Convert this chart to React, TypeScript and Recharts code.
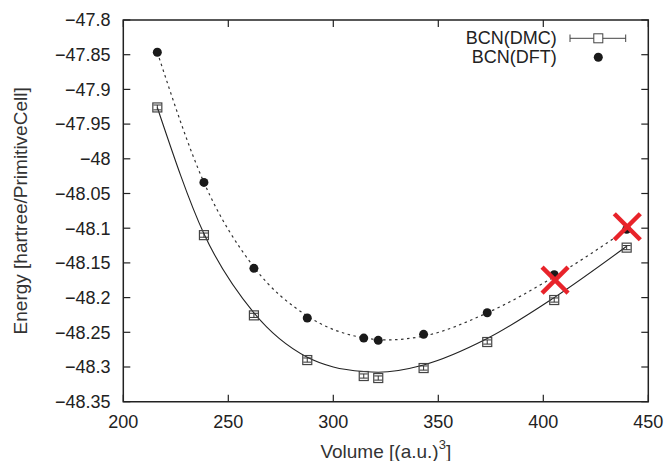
import React from 'react';
import {
  ComposedChart, Line, Scatter, XAxis, YAxis, ErrorBar, ReferenceArea,
} from 'recharts';

// measured points
const dmcVolume = [216.2, 238.4, 262.2, 287.6, 314.5, 321.4, 343.0, 373.3, 405.2, 439.7];
const dmcEnergy = [-47.926, -48.110, -48.2256, -48.290, -48.313, -48.3159, -48.3015, -48.264, -48.2035, -48.128];
const dmcError = [0.0035, 0.003, 0.003, 0.003, 0.003, 0.003, 0.003, 0.003, 0.003, 0.003];

const dftVolume = [216.2, 238.4, 262.2, 287.6, 314.5, 321.4, 343.0, 373.3, 405.2, 439.7];
const dftEnergy = [-47.8465, -48.034, -48.1578, -48.2294, -48.2583, -48.2616, -48.2529, -48.2218, -48.167, -48.1016];

// fitted curves
const dmcFitVolume = [216.2, 238.4, 262.2, 287.6, 300, 314.5, 321.4, 343.0, 373.3, 405.2, 439.7];
const dmcFitEnergy = [-47.926, -48.108, -48.222, -48.286, -48.300, -48.3065, -48.3075, -48.297, -48.259, -48.200, -48.126];

const dftFitVolume = [216.2, 238.4, 262.2, 287.6, 314.5, 325, 343.0, 373.3, 405.2, 439.7];
const dftFitEnergy = [-47.8465, -48.034, -48.156, -48.2265, -48.258, -48.261, -48.2555, -48.222, -48.170, -48.102];

// red crosses
const crossVolume = [405.6, 440.0];
const crossEnergy = [-48.1747, -48.0979];

const xTicks = [200, 250, 300, 350, 400, 450];
const yTicks = [-47.8, -47.85, -47.9, -47.95, -48, -48.05, -48.1, -48.15, -48.2, -48.25, -48.3, -48.35];

const W = 668;
const H = 461;
const PLOT = { left: 123.3, top: 20, right: 648.3, bottom: 401.7 };
const FONT = '"Liberation Sans", Arial, Helvetica, sans-serif';
const INK = '#222';

const zip = (vs: number[], es: number[], extra?: number[]) =>
  vs.map((v, i) => (extra ? { v, e: es[i], err: extra[i] } : { v, e: es[i] }));

const dmcPoints = zip(dmcVolume, dmcEnergy, dmcError);
const dftPoints = zip(dftVolume, dftEnergy);
const dmcFit = zip(dmcFitVolume, dmcFitEnergy);
const dftFit = zip(dftFitVolume, dftFitEnergy);
const crosses = zip(crossVolume, crossEnergy);

const fmt = (v: number) => String(v).replace('-', '\u2212');

const XTick = ({ x, payload }: any) => (
  <g>
    <line x1={x} x2={x} y1={PLOT.bottom} y2={PLOT.bottom - 7} stroke={INK} strokeWidth={1.2} />
    <line x1={x} x2={x} y1={PLOT.top} y2={PLOT.top + 7} stroke={INK} strokeWidth={1.2} />
    <text x={x} y={428} textAnchor="middle" fontSize={18} fontFamily={FONT} fill={INK}>
      {payload.value}
    </text>
  </g>
);

const YTick = ({ y, payload }: any) => (
  <g>
    <line x1={PLOT.left} x2={PLOT.left + 7} y1={y} y2={y} stroke={INK} strokeWidth={1.2} />
    <line x1={PLOT.right} x2={PLOT.right - 7} y1={y} y2={y} stroke={INK} strokeWidth={1.2} />
    <text x={110.5} y={y} dy="0.35em" textAnchor="end" fontSize={18} fontFamily={FONT} fill={INK}>
      {fmt(payload.value)}
    </text>
  </g>
);

const XTitle = () => (
  <text x={(PLOT.left + PLOT.right) / 2} y={458} textAnchor="middle" fontSize={19} fontFamily={FONT} fill="#333">
    Volume [(a.u.)<tspan dy={-9} fontSize={13}>3</tspan><tspan dy={9}>]</tspan>
  </text>
);

const YTitle = () => (
  <text
    x={0}
    y={0}
    transform={`translate(27, ${(PLOT.top + PLOT.bottom) / 2}) rotate(-90)`}
    textAnchor="middle"
    fontSize={19}
    fontFamily={FONT}
    fill="#333"
  >
    Energy [hartree/PrimitiveCell]
  </text>
);

const Square = ({ cx, cy }: any) => (
  <rect x={cx - 4.5} y={cy - 4.5} width={9} height={9} fill="none" stroke="#444" strokeWidth={1.2} />
);

const Dot = ({ cx, cy }: any) => <circle cx={cx} cy={cy} r={4.5} fill="#1a1a1a" />;

const Cross = ({ cx, cy }: any) => (
  <g stroke="#e8232a" strokeWidth={4.5} strokeLinecap="butt">
    <line x1={cx - 13} y1={cy - 13} x2={cx + 13} y2={cy + 13} />
    <line x1={cx - 13} y1={cy + 13} x2={cx + 13} y2={cy - 13} />
  </g>
);

function LegendBox() {
  return (
    <svg width={W} height={80} style={{ position: 'absolute', left: 0, top: 0, pointerEvents: 'none' }}>
      <text x={556.7} y={44.3} textAnchor="end" fontSize={18} fontFamily={FONT} fill={INK}>BCN(DMC)</text>
      <text x={556.7} y={63.3} textAnchor="end" fontSize={18} fontFamily={FONT} fill={INK}>BCN(DFT)</text>
      <g stroke="#444" strokeWidth={1}>
        <line x1={570} x2={625.7} y1={38.3} y2={38.3} />
        <line x1={570} x2={570} y1={34.5} y2={42} />
        <line x1={625.7} x2={625.7} y1={34.5} y2={42} />
        <rect x={593.8} y={33.8} width={9} height={9} fill="#fff" />
      </g>
      <circle cx={598.3} cy={57.3} r={4.5} fill="#1a1a1a" />
    </svg>
  );
}

export default function App() {
  return (
    <div style={{ position: 'absolute', left: 0, top: 0, width: W, height: H, background: '#fff' }}>
      <ComposedChart
        width={W}
        height={H}
        margin={{ top: PLOT.top, right: W - PLOT.right, left: 0, bottom: 0 }}
      >
        <XAxis
          type="number"
          dataKey="v"
          domain={[200, 450]}
          ticks={xTicks}
          allowDataOverflow
          height={H - PLOT.bottom}
          axisLine={false}
          tickLine={false}
          tick={<XTick />}
          interval={0}
          label={<XTitle />}
        />
        <YAxis
          type="number"
          domain={[-48.35, -47.8]}
          ticks={yTicks}
          allowDataOverflow
          width={PLOT.left}
          axisLine={false}
          tickLine={false}
          tick={<YTick />}
          interval={0}
          label={<YTitle />}
        />
        <ReferenceArea
          x1={200}
          x2={450}
          y1={-48.35}
          y2={-47.8}
          fill="none"
          stroke={INK}
          strokeWidth={1.5}
          ifOverflow="visible"
        />
        <Line
          data={dftFit}
          dataKey="e"
          type="monotone"
          stroke="#333"
          strokeWidth={1.2}
          strokeDasharray="2.5 3.5"
          dot={false}
          activeDot={false}
          isAnimationActive={false}
        />
        <Line
          data={dmcFit}
          dataKey="e"
          type="monotone"
          stroke="#222"
          strokeWidth={1.1}
          dot={false}
          activeDot={false}
          isAnimationActive={false}
        />
        <Scatter data={dmcPoints} dataKey="e" shape={<Square />} isAnimationActive={false}>
          <ErrorBar dataKey="err" direction="y" width={4} stroke="#333" strokeWidth={1} />
        </Scatter>
        <Scatter data={dftPoints} dataKey="e" shape={<Dot />} isAnimationActive={false} />
        <Scatter data={crosses} dataKey="e" shape={<Cross />} isAnimationActive={false} />
      </ComposedChart>
      <LegendBox />
    </div>
  );
}
